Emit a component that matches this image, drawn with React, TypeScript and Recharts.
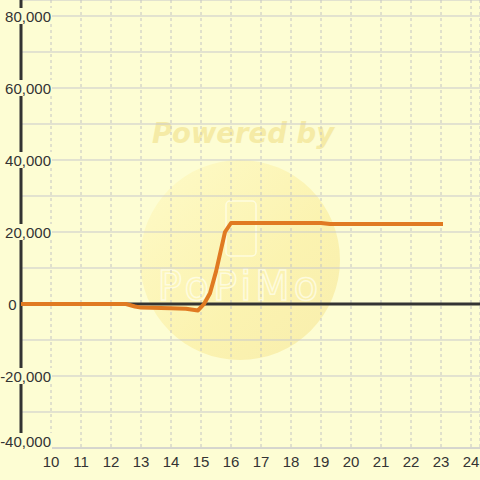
import React from 'react';
import { LineChart, Line, XAxis, YAxis, CartesianGrid, ReferenceLine } from 'recharts';

const xValues = [9, 10, 11, 12, 12.5, 12.8, 13, 14, 14.5, 14.9, 15.1, 15.3, 15.5, 15.8, 16, 17, 18, 19, 19.3, 20, 21, 22, 23];
const yValues = [0, 0, 0, 0, 0, -700, -1000, -1200, -1300, -1800, 0, 3000, 9000, 20000, 22500, 22500, 22500, 22500, 22200, 22200, 22200, 22200, 22200];
const xTicks = [10, 11, 12, 13, 14, 15, 16, 17, 18, 19, 20, 21, 22, 23, 24];
const yTicks = [-40000, -30000, -20000, -10000, 0, 10000, 20000, 30000, 40000, 50000, 60000, 70000, 80000];
const yLabelTicks = [-40000, -20000, 0, 20000, 40000, 60000, 80000];

const BG = '#FDFDD3';
const data = xValues.map((x, i) => ({ x, y: yValues[i] }));

const YTick = (props: any) => {
  const { x, y, payload } = props;
  const v = payload.value as number;
  if (!yLabelTicks.includes(v)) return <g />;
  const label = v.toLocaleString('en-US');
  const ty = v === yTicks[0] ? y - 7 : y;
  if (v === 0) {
    return (
      <text x={x - 4.5} y={ty} dy={6} textAnchor="end" fontSize={15} fill="#333" fontFamily="'Liberation Sans', Arial, sans-serif">
        {label}
      </text>
    );
  }
  const w = label.length * 8.2 + 2;
  const right = x + 31;
  return (
    <g>
      <rect x={right - w} y={ty - 8} width={w} height={16} fill={BG} />
      <text x={right - 1} y={ty} dy={6} textAnchor="end" fontSize={15} fill="#333" fontFamily="'Liberation Sans', Arial, sans-serif">
        {label}
      </text>
    </g>
  );
};

export default function App() {
  return (
    <div style={{ position: 'absolute', left: 0, top: 0, width: 480, height: 480, background: BG, overflow: 'hidden' }}>
      <svg width={480} height={480} style={{ position: 'absolute', left: 0, top: 0 }}>
        <defs>
          <linearGradient id="wm" x1="0" y1="0" x2="1" y2="1">
            <stop offset="0%" stopColor="#FEFAC6" />
            <stop offset="60%" stopColor="#FBF1AA" />
            <stop offset="100%" stopColor="#F7EBA6" />
          </linearGradient>
        </defs>
        <circle cx={240} cy={260} r={100} fill="url(#wm)" opacity={0.85} />
        <text x={243} y={143} textAnchor="middle" fontSize={27.5} fontWeight="bold" fontStyle="italic" fill="#F5EBA6" fontFamily="'DejaVu Sans', sans-serif">
          Powered by
        </text>
        <rect x={226} y={201} width={30} height={55} rx={4} fill="none" stroke="#FFFFF0" strokeWidth={1.5} opacity={0.7} />
        <text x={240} y={300} textAnchor="middle" fontSize={40} fill="none" stroke="#FFFFF0" strokeWidth={1.5} opacity={0.7} fontFamily="'DejaVu Sans', sans-serif" letterSpacing={4}>
          PoPiMo
        </text>
      </svg>
      <div style={{ position: 'absolute', left: 0, top: 0 }}>
        <LineChart width={480} height={480} data={data} margin={{ top: 0, right: 0, bottom: 0, left: 0 }}>
          <CartesianGrid vertical={false} stroke="#c8c8cc" strokeWidth={1} />
          <CartesianGrid horizontal={false} stroke="#c4c4c4" strokeDasharray="3 3" strokeWidth={1} />
          <XAxis
            dataKey="x"
            type="number"
            domain={[9, 24.3]}
            allowDataOverflow
            ticks={xTicks}
            interval={0}
            height={32}
            axisLine={{ stroke: '#c8c8cc', strokeWidth: 1 }}
            tickLine={false}
            tickSize={0}
            tickMargin={8}
            tick={{ fill: '#333', fontSize: 15, fontFamily: "'Liberation Sans', Arial, sans-serif" }}
          />
          <YAxis
            type="number"
            domain={[-40000, 84444]}
            allowDataOverflow
            ticks={yTicks}
            interval={0}
            width={21}
            axisLine={{ stroke: '#333', strokeWidth: 3 }}
            tickLine={false}
            tickSize={0}
            tickMargin={0}
            tick={<YTick />}
          />
          <ReferenceLine y={0} stroke="#333" strokeWidth={3} />
          <Line
            type="linear"
            dataKey="y"
            stroke="#E07A22"
            strokeWidth={4}
            dot={false}
            strokeLinejoin="round"
            strokeLinecap="square"
            isAnimationActive={false}
            zIndex={600}
          />
        </LineChart>
      </div>
    </div>
  );
}
